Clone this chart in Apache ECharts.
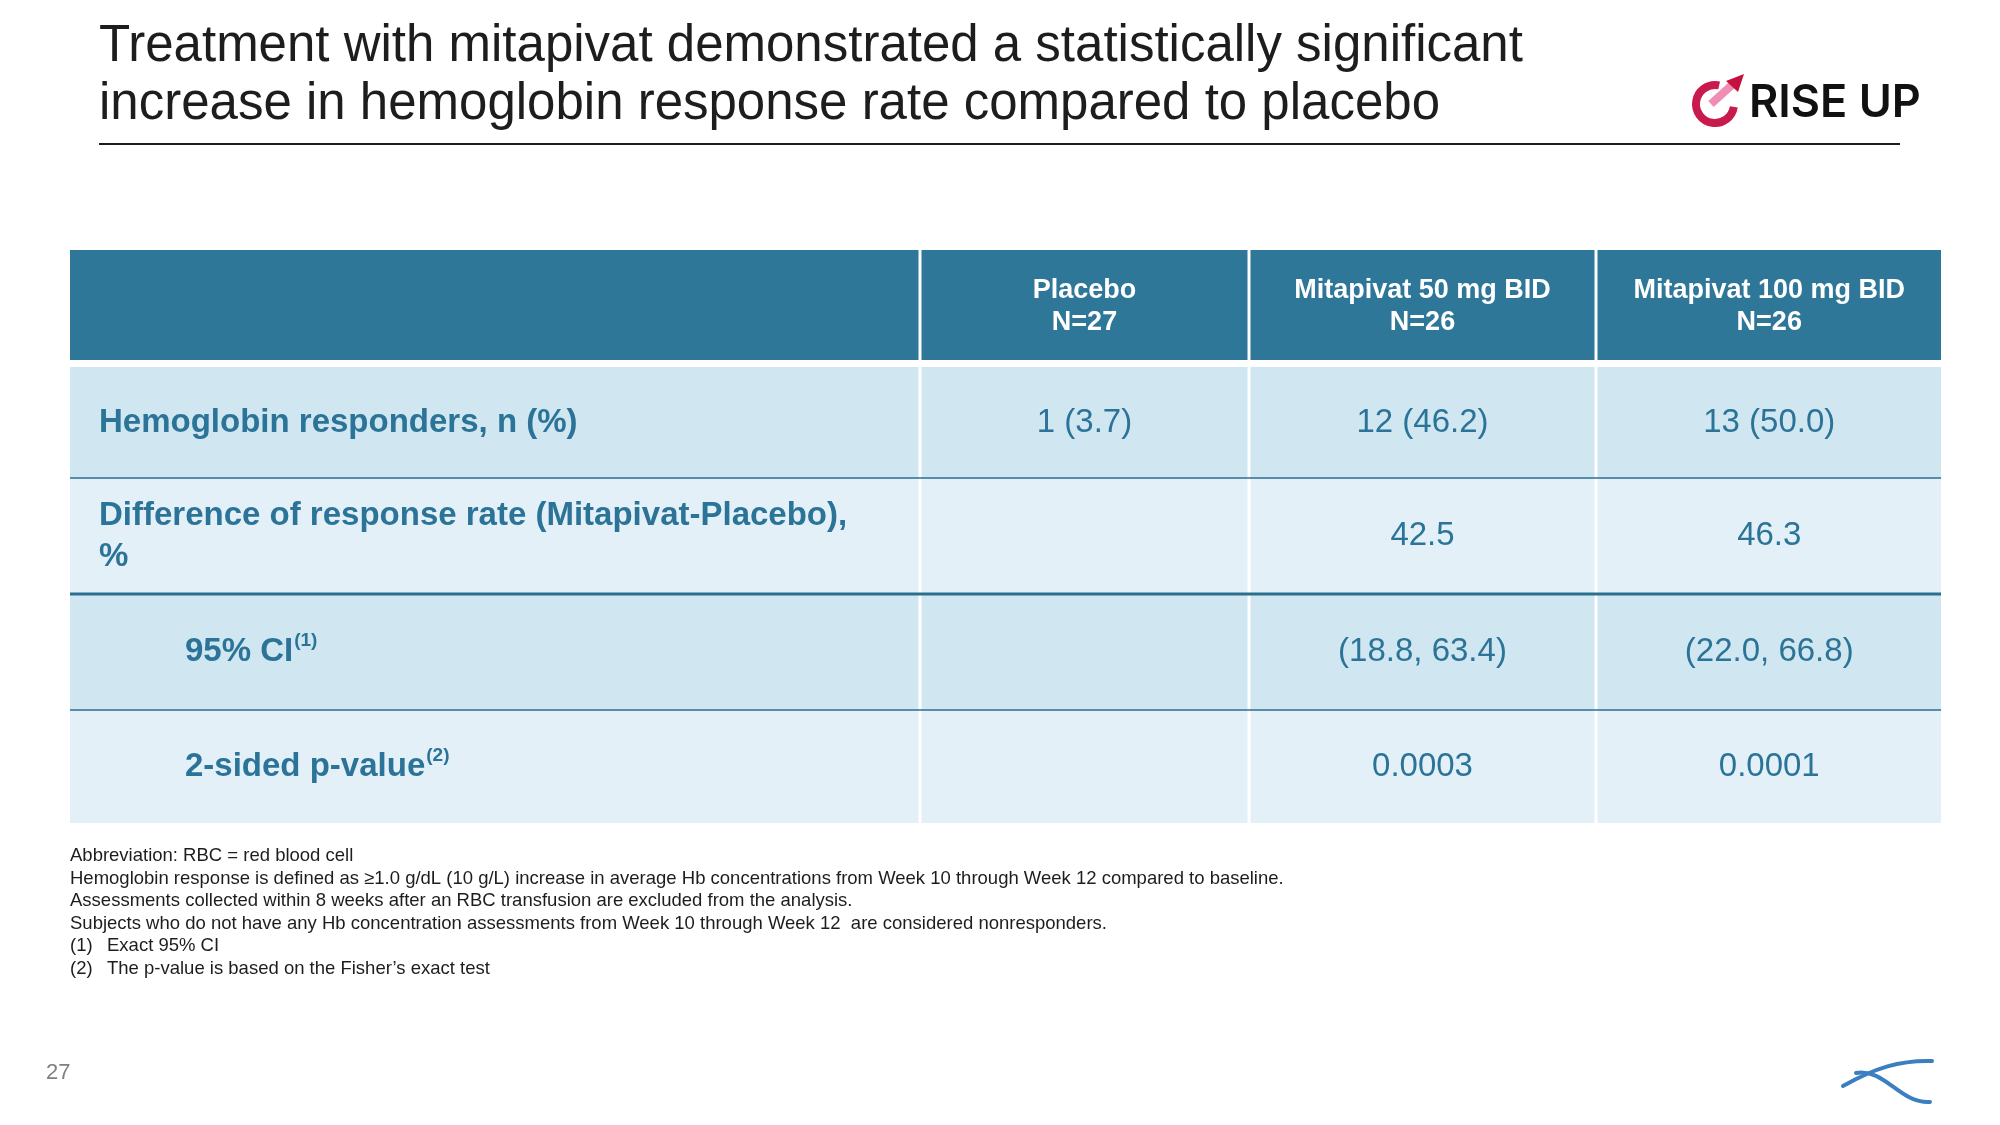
<!DOCTYPE html>
<html><head><meta charset="utf-8">
<script src="https://cdn.jsdelivr.net/npm/echarts@6/dist/echarts.min.js"></script>
<style>html,body{margin:0;padding:0;background:#fff}#c{width:2000px;height:1125px}</style>
</head><body><div id="c"></div>
<script>
// ---------------- data ----------------
const titleLines = ['Treatment with mitapivat demonstrated a statistically significant',
                    'increase in hemoglobin response rate compared to placebo'];
const arms = ['Placebo', 'Mitapivat 50 mg BID', 'Mitapivat 100 mg BID'];
const armN = [27, 26, 26];
const rowLabels = ['Hemoglobin responders, n (%)',
                   'Difference of response rate (Mitapivat-Placebo),\n%',
                   '95% CI',
                   '2-sided p-value'];
const rowNoteMarks = ['', '', '(1)', '(2)'];
const responders = [1, 12, 13];
const responderPct = [3.7, 46.2, 50.0];
const diffRate = [null, 42.5, 46.3];
const ciLower = [null, 18.8, 22.0];
const ciUpper = [null, 63.4, 66.8];
const pValues = [null, 0.0003, 0.0001];
const footnotes = ['Abbreviation: RBC = red blood cell',
  'Hemoglobin response is defined as \u22651.0 g/dL (10 g/L) increase in average Hb concentrations from Week 10 through Week 12 compared to baseline.',
  'Assessments collected within 8 weeks after an RBC transfusion are excluded from the analysis.',
  'Subjects who do not have any Hb concentration assessments from Week 10 through Week 12  are considered nonresponders.'];
const noteMarks = ['(1)', '(2)'];
const noteTexts = ['Exact 95% CI', 'The p-value is based on the Fisher\u2019s exact test'];
const pageNumber = '27';
const brandText = 'RISE UP';

// ---------------- layout (not data) ----------------
const colEdges = [0, 850, 1179, 1526, 1871];
const rowBands = [[0, 110], [117, 228], [228, 344], [344, 460], [460, 573]];
const rowFills = ['#2e7799', '#d0e6f1', '#e3f0f8', '#d0e6f1', '#e3f0f8'];
const rowLabelIndent = [0, 29, 29, 115, 115];
const rowRules = [{row: 1, w: 1.5}, {row: 2, w: 2.8}, {row: 3, w: 1.5}];
const TEXT_BLUE = '#2b7498';
const FONT = '"Liberation Sans", Arial, Helvetica, sans-serif';

// ---------------- build cells ----------------
const fmt1 = v => v.toFixed(1);
const cells = [];
cells.push({value: [0, 0], kind: 'header', text: ''});
arms.forEach((a, i) => cells.push({value: [i + 1, 0], kind: 'header', text: a + '\nN=' + armN[i]}));
const rowValues = [
  responders.map((n, i) => n + ' (' + fmt1(responderPct[i]) + ')'),
  diffRate.map(v => v == null ? '' : fmt1(v)),
  ciLower.map((v, i) => v == null ? '' : '(' + fmt1(v) + ', ' + fmt1(ciUpper[i]) + ')'),
  pValues.map(v => v == null ? '' : v.toFixed(4))
];
rowLabels.forEach((lab, r) => {
  const mark = rowNoteMarks[r];
  cells.push({value: [0, r + 1], kind: 'label', text: lab + (mark ? '{s|' + mark + '}' : '')});
  rowValues[r].forEach((t, i) => cells.push({value: [i + 1, r + 1], kind: 'value', text: t}));
});

function renderCell(params, api) {
  const c = api.value(0), r = api.value(1);
  const item = cells[params.dataIndex];
  const tl = api.coord([colEdges[c], rowBands[r][0]]);
  const br = api.coord([colEdges[c + 1], rowBands[r][1]]);
  const gapL = c > 0 ? 1.5 : 0, gapR = c < colEdges.length - 2 ? 1.5 : 0;
  const x = tl[0] + gapL, w = br[0] - tl[0] - gapL - gapR;
  const y = tl[1], h = br[1] - tl[1];
  const children = [{type: 'rect', shape: {x: x, y: y, width: w, height: h}, style: {fill: rowFills[r]}}];
  if (item.text) {
    let st;
    if (item.kind === 'header') {
      st = {text: item.text, x: x + w / 2, y: y + h / 2 + 2, align: 'center', verticalAlign: 'middle',
            fontFamily: FONT, fontWeight: 'bold', fontSize: 27, lineHeight: 32, fill: '#ffffff'};
    } else if (item.kind === 'label') {
      st = {text: item.text, x: tl[0] + rowLabelIndent[r], y: y + h / 2, align: 'left', verticalAlign: 'middle',
            fontFamily: FONT, fontWeight: 'bold', fontSize: 33, lineHeight: 41, fill: TEXT_BLUE,
            rich: {s: {fontFamily: FONT, fontWeight: 'bold', fontSize: 19, verticalAlign: 'top', fill: TEXT_BLUE, padding: [0, 0, 16, 1]}}};
    } else {
      st = {text: item.text, x: x + w / 2, y: y + h / 2, align: 'center', verticalAlign: 'middle',
            fontFamily: FONT, fontSize: 33, fill: TEXT_BLUE};
    }
    children.push({type: 'text', style: st});
  }
  return {type: 'group', children: children};
}

function renderRule(params, api) {
  const rr = rowRules[params.dataIndex];
  const yv = rowBands[rr.row][1];
  const a = api.coord([colEdges[0], yv]);
  const b = api.coord([colEdges[colEdges.length - 1], yv]);
  return {type: 'line', shape: {x1: a[0], y1: a[1], x2: b[0], y2: b[1]},
          style: {stroke: '#2b6f90', lineWidth: rr.w}};
}

// ---------------- graphics ----------------
const graphics = [];
function txt(x, y, text, size, color) {
  return {type: 'text', x: x, y: y,
    style: {text: text, fontFamily: FONT, fontSize: size, fill: color, align: 'left', verticalAlign: 'middle'}};
}
titleLines.forEach((t, i) => graphics.push(txt(99, 47 + i * 58, t, 51, '#1d1d1d')));
graphics.push({type: 'line', shape: {x1: 99, y1: 144, x2: 1900, y2: 144}, style: {stroke: '#1d1d1d', lineWidth: 2}});
// brand logo
graphics.push({type: 'arc', shape: {cx: 1715, cy: 104, r: 19, startAngle: 0.15, endAngle: -1.35, clockwise: true},
  style: {stroke: '#c91a4e', lineWidth: 8}});
graphics.push({type: 'line', shape: {x1: 1711, y1: 104, x2: 1733, y2: 84},
  style: {stroke: '#ef8db4', lineWidth: 8}});
graphics.push({type: 'polygon', shape: {points: [[1726, 81], [1744, 74], [1738, 92]]}, style: {fill: '#c4123f'}});
graphics.push({type: 'text', x: 1749, y: 103,
  style: {text: brandText, fontFamily: 'Inter, "Open Sans", sans-serif', fontWeight: 600, fontSize: 45, fill: '#111111', verticalAlign: 'middle'}});
// footnotes
footnotes.forEach((t, i) => graphics.push(txt(70, 856 + i * 22.5, t, 18.5, '#1d1d1d')));
noteMarks.forEach((m, i) => {
  const yy = 856 + (footnotes.length + i) * 22.5;
  graphics.push(txt(70, yy, m, 18.5, '#1d1d1d'));
  graphics.push(txt(107, yy, noteTexts[i], 18.5, '#1d1d1d'));
});
graphics.push(txt(46, 1073, pageNumber, 22, '#808080'));
// bottom-right wave logo
graphics.push({type: 'bezierCurve', shape: {x1: 1843, y1: 1086, cpx1: 1875, cpy1: 1068, cpx2: 1900, cpy2: 1060, x2: 1932, y2: 1061},
  style: {stroke: '#3b7fc1', lineWidth: 4, fill: null, lineCap: 'round'}});
graphics.push({type: 'bezierCurve', shape: {x1: 1856, y1: 1073, cpx1: 1885, cpy1: 1068, cpx2: 1900, cpy2: 1104, x2: 1930, y2: 1102},
  style: {stroke: '#3b7fc1', lineWidth: 4, fill: null, lineCap: 'round'}});

// ---------------- chart ----------------
const chart = echarts.init(document.getElementById('c'), null, {renderer: 'canvas'});
chart.setOption({
  backgroundColor: '#ffffff',
  animation: false,
  grid: {left: 70, top: 250, width: 1871, height: 573},
  xAxis: {type: 'value', min: colEdges[0], max: colEdges[colEdges.length - 1], show: false},
  yAxis: {type: 'value', min: 0, max: rowBands[rowBands.length - 1][1], inverse: true, show: false},
  series: [
    {type: 'custom', renderItem: renderCell, data: cells, silent: true, z: 2},
    {type: 'custom', renderItem: renderRule, data: rowRules.map(r => [r.row]), silent: true, z: 3}
  ],
  graphic: graphics
});
</script>
</body></html>
